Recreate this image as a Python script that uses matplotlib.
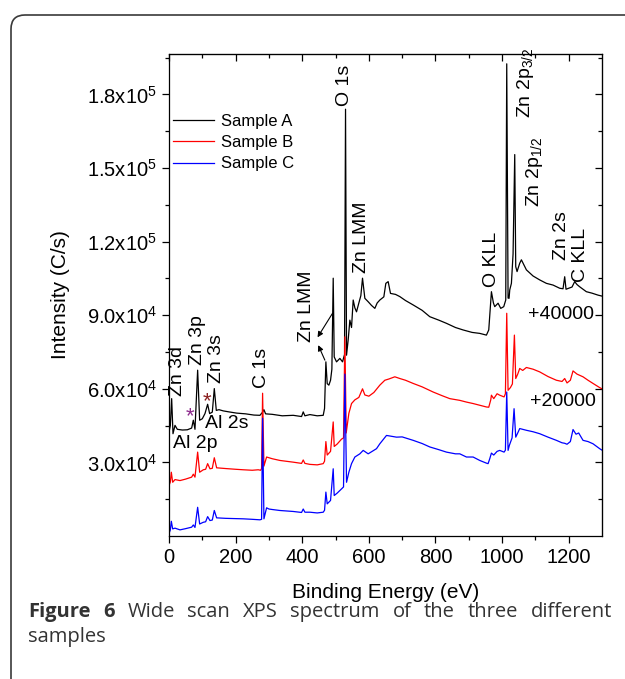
import matplotlib
matplotlib.use('Agg')
import matplotlib.pyplot as plt
from matplotlib import patches, transforms
import numpy as np

plt.rcParams['font.family'] = ['Liberation Sans', 'DejaVu Sans']
plt.rcParams['mathtext.default'] = 'regular'

# binding energy (eV) / intensity (C/s), offsets already included
energy_a = [0, 4, 8, 12, 18, 25, 40, 55, 68, 73, 78, 86, 92, 100, 108, 116, 122, 130, 136, 142,
            150, 163, 180, 203, 230, 255, 273, 280, 285, 290, 310, 340, 373, 398, 403, 408, 423, 445,
            463, 467, 471, 475, 480, 485, 489, 493, 496, 503, 513, 521, 527, 530, 533, 538, 543, 548,
            553, 558, 563, 570, 576, 581, 588, 598, 608, 618, 625, 633, 645, 651, 658, 665, 680, 693,
            710, 733, 760, 783, 810, 833, 860, 883, 910, 933, 953, 960, 968, 974, 978, 988, 996, 1005,
            1011, 1014, 1018, 1021, 1023, 1028, 1033, 1038, 1041, 1045, 1053, 1058, 1073, 1093, 1113,
            1133, 1153, 1173, 1183, 1188, 1192, 1200, 1210, 1218, 1225, 1233, 1253, 1270, 1288, 1300]
counts_a = [42400, 45000, 56000, 41700, 45100, 43500, 43200, 43300, 44000, 47200, 43500, 67600, 47200,
            47800, 49900, 53700, 49900, 50500, 60100, 51200, 51500, 51000, 50600, 50100, 49800, 49300,
            49200, 50300, 51500, 49800, 49600, 49000, 49200, 48700, 50600, 49000, 49500, 49000, 49200,
            52000, 71000, 62100, 61500, 63500, 68000, 105100, 73000, 71000, 72400, 71000, 74000, 174000,
            73700, 80000, 88000, 85000, 96200, 93000, 91400, 95000, 98000, 105100, 96900, 95500, 94000,
            92800, 95000, 96200, 97500, 103000, 103700, 98900, 98500, 97600, 96000, 94200, 92000, 89400,
            88000, 86700, 85000, 84000, 83000, 82600, 81900, 84000, 99600, 95000, 93500, 94900, 92800,
            93500, 96200, 192500, 97000, 96900, 100300, 103000, 115000, 155500, 109800, 107800, 111200,
            112600, 108500, 106000, 104400, 103000, 102300, 101000, 100800, 105700, 100600, 101000,
            101500, 103700, 102500, 101600, 99600, 99000, 98200, 97800]

energy_b = [0, 4, 7, 11, 18, 33, 50, 68, 73, 78, 86, 92, 103, 110, 116, 123, 130, 136, 143, 170, 200,
            223, 250, 268, 275, 278, 281, 285, 293, 310, 333, 373, 398, 403, 408, 423, 445, 463, 467,
            471, 475, 485, 493, 496, 505, 518, 524, 528, 532, 540, 548, 558, 570, 581, 588, 600, 615,
            633, 648, 660, 678, 693, 710, 733, 760, 793, 820, 843, 873, 893, 913, 933, 953, 960, 966,
            968, 975, 985, 993, 1006, 1010, 1014, 1018, 1025, 1031, 1037, 1041, 1047, 1053, 1062, 1073,
            1093, 1113, 1138, 1163, 1180, 1188, 1195, 1205, 1213, 1225, 1243, 1258, 1273, 1293, 1300]
counts_b = [20600, 22000, 26000, 21900, 23000, 22600, 23200, 24000, 25200, 24000, 34200, 26000, 27000,
            27200, 29500, 27400, 27600, 31900, 27800, 27500, 27200, 27000, 26800, 27000, 26800, 27500,
            58200, 28500, 32200, 31500, 30800, 30100, 29600, 31000, 29600, 29200, 29000, 29500, 30500,
            38500, 33000, 34500, 46500, 36500, 37500, 39500, 40000, 81200, 42000, 50000, 54000, 55500,
            56500, 60000, 57500, 57000, 58500, 61500, 63500, 64000, 64900, 64200, 63500, 62200, 60800,
            58700, 57200, 56000, 55300, 54600, 54000, 53300, 52600, 52500, 55500, 57400, 56000, 58000,
            57400, 56700, 58000, 90800, 59400, 60500, 62000, 81900, 64200, 66000, 68300, 67500, 68700,
            68000, 66900, 65000, 63500, 63000, 64200, 62400, 63500, 67300, 66000, 64900, 63500, 62200,
            60500, 60000]

energy_c = [0, 4, 7, 11, 18, 33, 50, 68, 73, 78, 86, 92, 103, 110, 116, 123, 130, 136, 143, 170, 223,
            250, 273, 278, 281, 285, 293, 300, 310, 333, 373, 398, 403, 408, 423, 445, 463, 467, 471,
            475, 485, 493, 496, 505, 518, 524, 528, 533, 540, 548, 558, 573, 583, 598, 623, 633, 653,
            683, 700, 733, 760, 783, 810, 833, 860, 873, 893, 913, 933, 953, 958, 963, 968, 975, 985,
            993, 1006, 1010, 1014, 1018, 1022, 1030, 1036, 1041, 1047, 1053, 1073, 1093, 1113, 1138,
            1163, 1180, 1188, 1195, 1205, 1213, 1222, 1230, 1243, 1258, 1273, 1293, 1300]
counts_c = [1000, 2500, 6000, 2900, 3200, 2500, 3000, 3600, 4500, 3500, 11700, 4900, 5600, 5800, 7900,
            6300, 6500, 10400, 7400, 7200, 7000, 6800, 6600, 6800, 48000, 7000, 11500, 11000, 10800,
            10400, 10000, 9600, 11000, 9700, 9700, 9400, 9700, 10500, 17900, 13100, 14500, 27400, 16500,
            17500, 19200, 20000, 66000, 21900, 26000, 29500, 32200, 33500, 34900, 33500, 35600, 37600,
            41000, 40300, 40400, 39000, 37700, 36300, 35200, 34200, 33500, 33500, 32200, 32200, 30800,
            29700, 29500, 31500, 33800, 33000, 34500, 34900, 34200, 35000, 58700, 34900, 37000, 40000,
            51900, 40300, 42000, 43800, 43100, 42500, 41700, 40300, 39000, 38000, 37800, 37400, 38500,
            43400, 41500, 42000, 39000, 38500, 37600, 35600, 35000]

series_names = ['Sample A', 'Sample B', 'Sample C']
series_colors = ['black', '#ff0000', '#0000ff']

ytick_vals = [30000, 60000, 90000, 120000, 150000, 180000]
ytick_labels = ['3.0x10$^4$', '6.0x10$^4$', '9.0x10$^4$', '1.2x10$^5$', '1.5x10$^5$', '1.8x10$^5$']
xtick_vals = [0, 200, 400, 600, 800, 1000, 1200]

# peak labels: (text, energy, intensity at text bottom)
peak_labels = [('Zn 3d', 27, 57000), ('Zn 3p', 87, 69700), ('Zn 3s', 144, 62300), ('C 1s', 277, 60200),
               ('Zn LMM', 414, 79000), ('O 1s', 528, 175500), ('Zn LMM', 579, 107300),
               ('O KLL', 968, 101600), ('Zn 2p$_{3/2}$', 1071, 170600), ('Zn 2p$_{1/2}$', 1098, 134300),
               ('Zn 2s', 1178, 112600), ('C KLL', 1236, 103700)]

W, H = 625, 679
fig = plt.figure(figsize=(W / 100, H / 100), dpi=100)
ax = fig.add_axes([169 / W, 1 - 536 / H, (602 - 169) / W, (536 - 54) / H])

for e, c, name, col in zip([energy_a, energy_b, energy_c], [counts_a, counts_b, counts_c],
                           series_names, series_colors):
    ax.plot(e, c, color=col, lw=0.9, label=name)

ax.set_xlim(0, 1300)
ax.set_ylim(0, 196500)
ax.set_xticks(xtick_vals)
ax.set_xticks(np.arange(100, 1300, 200), minor=True)
ax.set_yticks(ytick_vals)
ax.set_yticklabels(ytick_labels)
ax.set_yticks(np.arange(15000, 196000, 30000), minor=True)
ax.tick_params(axis='both', which='both', direction='out', labelsize=14.5, width=0.9)
ax.tick_params(which='major', length=5)
ax.tick_params(which='minor', length=3)
for s in ax.spines.values():
    s.set_linewidth(0.9)

# mirrored ticks on top and right, pointing inward
sec_x = ax.secondary_xaxis('top')
sec_x.set_xticks(xtick_vals)
sec_x.set_xticks(np.arange(100, 1300, 200), minor=True)
sec_x.tick_params(which='both', direction='in', labeltop=False, width=0.9)
sec_x.tick_params(which='major', length=5)
sec_x.tick_params(which='minor', length=3)
sec_y = ax.secondary_yaxis('right')
sec_y.set_yticks(ytick_vals)
sec_y.set_yticks(np.arange(15000, 196000, 30000), minor=True)
sec_y.tick_params(which='both', direction='in', labelright=False, width=0.9)
sec_y.tick_params(which='major', length=5)
sec_y.tick_params(which='minor', length=3)

ax.set_xlabel('Binding Energy (eV)', fontsize=15, labelpad=12)
ax.set_ylabel('Intensity (C/s)', fontsize=15, labelpad=12)

ax.legend(loc='upper left', bbox_to_anchor=(0.0085, 0.876), frameon=False, fontsize=12,
          handlelength=2.5, handletextpad=0.4, labelspacing=0.38, borderpad=0, borderaxespad=0)

for txt, e, y in peak_labels:
    ax.text(e, y, txt, rotation=90, ha='center', va='bottom', fontsize=14)

ax.text(80, 37800, 'Al 2p', ha='center', va='center', fontsize=14)
ax.text(173, 45900, 'Al 2s', ha='center', va='center', fontsize=14)
ax.text(63, 48500, '*', color='#8e2c8e', ha='center', va='center', fontsize=16)
ax.text(114, 54600, '*', color='#8b2020', ha='center', va='center', fontsize=16)
ax.text(1178, 90500, '+40000', ha='center', va='center', fontsize=14)
ax.text(1182, 55000, '+20000', ha='center', va='center', fontsize=14)

arrow = dict(arrowstyle='-|>', color='black', lw=0.8, mutation_scale=8, shrinkA=0, shrinkB=0)
ax.annotate('', xy=(446, 81000), xytext=(491, 90800), arrowprops=arrow)
ax.annotate('', xy=(448, 77800), xytext=(468, 71700), arrowprops=arrow)

# rounded frame around the figure panel
frame = patches.FancyBboxPatch((11, -30), 700, H - 15 + 30, boxstyle='round,pad=0,rounding_size=14',
                               transform=transforms.IdentityTransform(), fill=False,
                               edgecolor='#3a3a3a', lw=1.2)
fig.add_artist(frame)

# caption, justified on the first line
renderer = fig.canvas.get_renderer()
words = ['Figure', '6', 'Wide', 'scan', 'XPS', 'spectrum', 'of', 'the', 'three', 'different']
bold = [True, True] + [False] * 8
cap_font = ['Open Sans', 'DejaVu Sans']
texts = []
for w, b in zip(words, bold):
    t = fig.text(0, 1 - 612 / H, w, fontsize=14.5, family=cap_font,
                 fontweight='bold' if b else 'normal', color='#333333', va='center')
    texts.append(t)
widths = [t.get_window_extent(renderer).width for t in texts]
gap = (612 - 28 - sum(widths)) / (len(words) - 1)
x = 28
for t, wd in zip(texts, widths):
    t.set_x(x / W)
    x += wd + gap
fig.text(28 / W, 1 - 637 / H, 'samples', fontsize=14.5, family=cap_font,
         color='#333333', va='center')

fig.savefig('out.png', dpi=100)
